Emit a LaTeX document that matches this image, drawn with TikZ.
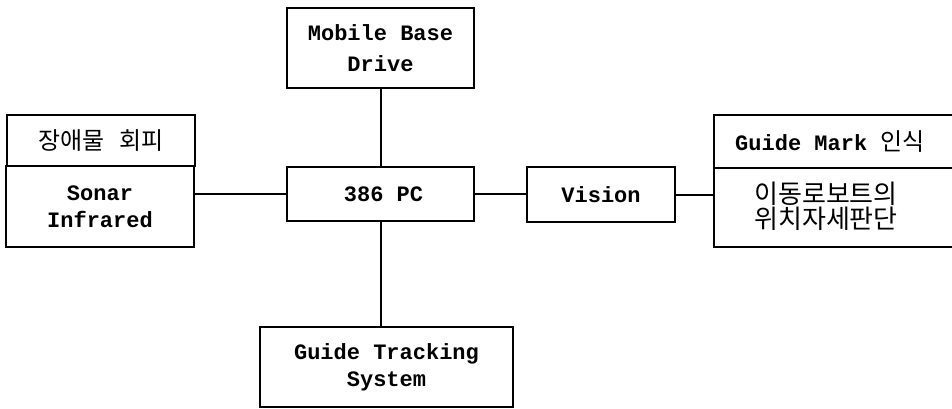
\documentclass[tikz,border=0pt]{standalone}
\usepackage{fontspec}
\newfontfamily\mono{Liberation Mono}
\newfontfamily\kr{Noto Sans CJK KR}
\tikzset{
  box/.style={draw, line width=2pt, rectangle, inner sep=0pt, align=center},
  conn/.style={line width=2pt},
  en/.style={font=\mono\bfseries\fontsize{22}{27}\selectfont},
  ko/.style={font=\kr\fontsize{24}{27}\selectfont},
}
\begin{document}
\begin{tikzpicture}[x=1pt,y=-1pt]
\useasboundingbox (0,0) rectangle (952,408);
% left block
\node[box, ko, minimum width=188pt, minimum height=51pt] (lhead) at (101,140.5) {장애물\hspace{14pt}회피};
\node[box, en, minimum width=188pt, minimum height=81pt] (lbody) at (100,206.5) {Sonar\\Infrared};
% centre
\node[box, en, minimum width=187pt, minimum height=54pt] (pc) at (380.5,194) {\hspace{6pt}386 PC};
\node[box, en, minimum width=187pt, minimum height=80pt] (mb) at (380.5,48) {Mobile Base\\[4pt]Drive};
\node[box, en, minimum width=148pt, minimum height=55pt] (vis) at (601,194.5) {Vision};
\node[box, en, minimum width=253pt, minimum height=80pt] (gts) at (386.5,367) {Guide Tracking\\System};
% right block
\node[box, minimum width=252pt, minimum height=53pt] (rhead) at (840,141.5) {};
\node[en, anchor=base west, inner sep=0pt] (rheadtxt) at (735,150) {Guide Mark {\kr\mdseries\fontsize{24}{27}\selectfont 인식}};
\node[box, minimum width=252pt, minimum height=79pt] (rbody) at (840,207.5) {};
\node[anchor=center, inner sep=0pt, align=left, font=\kr\fontsize{26}{25}\selectfont] (rbodytxt) at (826,206) {이동로보트의\\위치자세판단};
% connectors
\draw[conn] (pc.west) -- (pc.west -| lbody.east);
\draw[conn] (pc.north) -- (mb.south);
\draw[conn] (pc.south) -- (pc.south |- gts.north);
\draw[conn] (pc.east) -- (pc.east -| vis.west);
\draw[conn] (vis.east) -- (vis.east -| rbody.west);
\end{tikzpicture}
\end{document}
